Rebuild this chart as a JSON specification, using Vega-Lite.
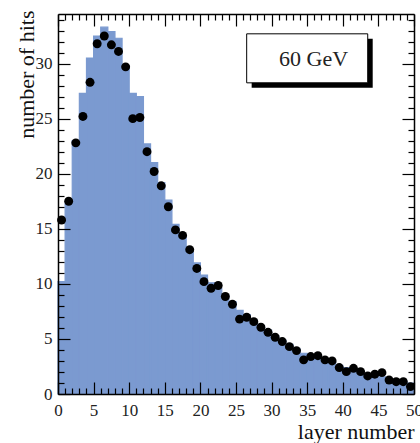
{
  "$schema": "https://vega.github.io/schema/vega-lite/v6.json",
  "width": 356,
  "height": 380,
  "autosize": "none",
  "padding": {"left": 58, "top": 14, "right": 6, "bottom": 49},
  "background": "white",
  "config": {"view": {"stroke": null}, "font": "Liberation Serif"},
  "data": {"values": [
    {"layer": 1, "lo": 0, "hi": 1, "mid": 0.5, "sim": 10.2, "hits": 15.8},
    {"layer": 2, "lo": 1, "hi": 2, "mid": 1.5, "sim": 17.3, "hits": 17.5},
    {"layer": 3, "lo": 2, "hi": 3, "mid": 2.5, "sim": 23.0, "hits": 22.8},
    {"layer": 4, "lo": 3, "hi": 4, "mid": 3.5, "sim": 27.3, "hits": 25.2},
    {"layer": 5, "lo": 4, "hi": 5, "mid": 4.5, "sim": 30.5, "hits": 28.3},
    {"layer": 6, "lo": 5, "hi": 6, "mid": 5.5, "sim": 32.5, "hits": 31.8},
    {"layer": 7, "lo": 6, "hi": 7, "mid": 6.5, "sim": 33.3, "hits": 32.5},
    {"layer": 8, "lo": 7, "hi": 8, "mid": 7.5, "sim": 32.9, "hits": 31.7},
    {"layer": 9, "lo": 8, "hi": 9, "mid": 8.5, "sim": 32.3, "hits": 31.1},
    {"layer": 10, "lo": 9, "hi": 10, "mid": 9.5, "sim": 29.8, "hits": 29.7},
    {"layer": 11, "lo": 10, "hi": 11, "mid": 10.5, "sim": 27.3, "hits": 25.0},
    {"layer": 12, "lo": 11, "hi": 12, "mid": 11.5, "sim": 27.0, "hits": 25.1},
    {"layer": 13, "lo": 12, "hi": 13, "mid": 12.5, "sim": 22.7, "hits": 22.0},
    {"layer": 14, "lo": 13, "hi": 14, "mid": 13.5, "sim": 21.0, "hits": 20.2},
    {"layer": 15, "lo": 14, "hi": 15, "mid": 14.5, "sim": 19.2, "hits": 18.9},
    {"layer": 16, "lo": 15, "hi": 16, "mid": 15.5, "sim": 17.6, "hits": 17.0},
    {"layer": 17, "lo": 16, "hi": 17, "mid": 16.5, "sim": 15.4, "hits": 14.9},
    {"layer": 18, "lo": 17, "hi": 18, "mid": 17.5, "sim": 14.2, "hits": 14.4},
    {"layer": 19, "lo": 18, "hi": 19, "mid": 18.5, "sim": 13.0, "hits": 13.1},
    {"layer": 20, "lo": 19, "hi": 20, "mid": 19.5, "sim": 11.9, "hits": 11.4},
    {"layer": 21, "lo": 20, "hi": 21, "mid": 20.5, "sim": 10.8, "hits": 10.2},
    {"layer": 22, "lo": 21, "hi": 22, "mid": 21.5, "sim": 10.1, "hits": 9.6},
    {"layer": 23, "lo": 22, "hi": 23, "mid": 22.5, "sim": 9.6, "hits": 9.85},
    {"layer": 24, "lo": 23, "hi": 24, "mid": 23.5, "sim": 9.0, "hits": 8.85},
    {"layer": 25, "lo": 24, "hi": 25, "mid": 24.5, "sim": 8.4, "hits": 8.15},
    {"layer": 26, "lo": 25, "hi": 26, "mid": 25.5, "sim": 7.6, "hits": 6.8},
    {"layer": 27, "lo": 26, "hi": 27, "mid": 26.5, "sim": 7.2, "hits": 6.97},
    {"layer": 28, "lo": 27, "hi": 28, "mid": 27.5, "sim": 6.7, "hits": 6.57},
    {"layer": 29, "lo": 28, "hi": 29, "mid": 28.5, "sim": 6.2, "hits": 6.06},
    {"layer": 30, "lo": 29, "hi": 30, "mid": 29.5, "sim": 5.8, "hits": 5.6},
    {"layer": 31, "lo": 30, "hi": 31, "mid": 30.5, "sim": 5.3, "hits": 5.15},
    {"layer": 32, "lo": 31, "hi": 32, "mid": 31.5, "sim": 4.9, "hits": 4.76},
    {"layer": 33, "lo": 32, "hi": 33, "mid": 32.5, "sim": 4.5, "hits": 4.3},
    {"layer": 34, "lo": 33, "hi": 34, "mid": 33.5, "sim": 4.1, "hits": 3.94},
    {"layer": 35, "lo": 34, "hi": 35, "mid": 34.5, "sim": 3.7, "hits": 3.1},
    {"layer": 36, "lo": 35, "hi": 36, "mid": 35.5, "sim": 3.5, "hits": 3.4},
    {"layer": 37, "lo": 36, "hi": 37, "mid": 36.5, "sim": 3.3, "hits": 3.48},
    {"layer": 38, "lo": 37, "hi": 38, "mid": 37.5, "sim": 3.1, "hits": 3.1},
    {"layer": 39, "lo": 38, "hi": 39, "mid": 38.5, "sim": 2.9, "hits": 3.0},
    {"layer": 40, "lo": 39, "hi": 40, "mid": 39.5, "sim": 2.6, "hits": 2.4},
    {"layer": 41, "lo": 40, "hi": 41, "mid": 40.5, "sim": 2.4, "hits": 2.03},
    {"layer": 42, "lo": 41, "hi": 42, "mid": 41.5, "sim": 2.2, "hits": 2.33},
    {"layer": 43, "lo": 42, "hi": 43, "mid": 42.5, "sim": 2.0, "hits": 2.03},
    {"layer": 44, "lo": 43, "hi": 44, "mid": 43.5, "sim": 1.85, "hits": 1.64},
    {"layer": 45, "lo": 44, "hi": 45, "mid": 44.5, "sim": 1.7, "hits": 1.8},
    {"layer": 46, "lo": 45, "hi": 46, "mid": 45.5, "sim": 1.55, "hits": 1.94},
    {"layer": 47, "lo": 46, "hi": 47, "mid": 46.5, "sim": 1.4, "hits": 1.27},
    {"layer": 48, "lo": 47, "hi": 48, "mid": 47.5, "sim": 1.3, "hits": 1.12},
    {"layer": 49, "lo": 48, "hi": 49, "mid": 48.5, "sim": 1.15, "hits": 1.12},
    {"layer": 50, "lo": 49, "hi": 50, "mid": 49.5, "sim": 1.0, "hits": 0.67}
  ]},
  "layer": [
    {
      "mark": {"type": "rect", "color": "#7b9ad0", "stroke": "#7b9ad0", "strokeWidth": 1.2, "opacity": 1},
      "encoding": {
        "x": {"field": "lo", "type": "quantitative",
          "scale": {"domain": [0, 50], "nice": false, "zero": false},
          "axis": {"orient": "bottom", "zindex": 3, "ticks": false,
            "values": [0, 5, 10, 15, 20, 25, 30, 35, 40, 45, 50],
            "labelFont": "Liberation Serif", "labelFontSize": 17, "labelColor": "#222",
            "labelPadding": 8, "labelFlush": false, "labelOverlap": false, "labelBound": false,
            "domainColor": "black", "domainWidth": 1.5,
            "grid": false,
            "title": "layer number", "titleFont": "Liberation Serif", "titleFontSize": 22,
            "titleFontWeight": "normal", "titleColor": "#111",
            "titleAnchor": "end", "titleAlign": "right", "titleBaseline": "alphabetic",
            "titleX": 356, "titleY": 44}},
        "x2": {"field": "hi"},
        "y": {"field": "sim", "type": "quantitative",
          "scale": {"domain": [0, 34.5], "nice": false, "zero": true},
          "axis": {"orient": "left", "zindex": 3, "ticks": false,
            "values": [0, 5, 10, 15, 20, 25, 30],
            "labelFont": "Liberation Serif", "labelFontSize": 17, "labelColor": "#222",
            "labelPadding": 6, "labelFlush": false, "labelOverlap": false, "labelBound": false,
            "domainColor": "black", "domainWidth": 1.5,
            "grid": false,
            "title": "number of hits", "titleFont": "Liberation Serif", "titleFontSize": 22,
            "titleFontWeight": "normal", "titleColor": "#111", "titleAngle": 270,
            "titleAnchor": "end", "titleAlign": "right", "titleBaseline": "alphabetic",
            "titleX": -25, "titleY": -4}},
        "y2": {"datum": 0}
      }
    },
    {
      "mark": {"type": "circle", "color": "black", "size": 80, "opacity": 1},
      "encoding": {
        "x": {"field": "mid", "type": "quantitative",
          "axis": {"orient": "top", "zindex": 3,
            "values": [0,1,2,3,4,5,6,7,8,9,10,11,12,13,14,15,16,17,18,19,20,21,22,23,24,25,26,27,28,29,30,31,32,33,34,35,36,37,38,39,40,41,42,43,44,45,46,47,48,49,50],
            "tickSize": {"condition": {"test": "datum.value % 5 === 0", "value": -12}, "value": -6},
            "labels": false, "title": null, "grid": false,
            "domainColor": "black", "domainWidth": 1.5, "tickColor": "black", "tickWidth": 1.2}},
        "y": {"field": "hits", "type": "quantitative",
          "axis": {"orient": "right", "zindex": 3,
            "values": [0,1,2,3,4,5,6,7,8,9,10,11,12,13,14,15,16,17,18,19,20,21,22,23,24,25,26,27,28,29,30,31,32,33,34],
            "tickSize": {"condition": {"test": "datum.value % 5 === 0", "value": -12}, "value": -6},
            "labels": false, "title": null, "grid": false,
            "domainColor": "black", "domainWidth": 1.5, "tickColor": "black", "tickWidth": 1.2}}
      }
    },
    {
      "data": {"values": [{"x1": 27.2, "x2": 44.2, "y1": 27.8, "y2": 32.25}]},
      "mark": {"type": "rect", "color": "black"},
      "encoding": {
        "x": {"field": "x1", "type": "quantitative",
          "axis": {"orient": "top", "offset": -380, "zindex": 3,
            "values": [0,1,2,3,4,5,6,7,8,9,10,11,12,13,14,15,16,17,18,19,20,21,22,23,24,25,26,27,28,29,30,31,32,33,34,35,36,37,38,39,40,41,42,43,44,45,46,47,48,49,50],
            "tickSize": {"condition": {"test": "datum.value % 5 === 0", "value": 12}, "value": 6},
            "labels": false, "title": null, "grid": false, "domain": false,
            "tickColor": "black", "tickWidth": 1.2}},
        "x2": {"field": "x2"},
        "y": {"field": "y1", "type": "quantitative",
          "axis": {"orient": "right", "offset": -356, "zindex": 3,
            "values": [0,1,2,3,4,5,6,7,8,9,10,11,12,13,14,15,16,17,18,19,20,21,22,23,24,25,26,27,28,29,30,31,32,33,34],
            "tickSize": {"condition": {"test": "datum.value % 5 === 0", "value": 12}, "value": 6},
            "labels": false, "title": null, "grid": false, "domain": false,
            "tickColor": "black", "tickWidth": 1.2}},
        "y2": {"field": "y2"}
      }
    },
    {
      "data": {"values": [{"x1": 26.5, "x2": 43.5, "y1": 28.25, "y2": 32.7}]},
      "mark": {"type": "rect", "fill": "white", "stroke": "black", "strokeWidth": 1},
      "encoding": {
        "x": {"field": "x1", "type": "quantitative", "axis": null}, "x2": {"field": "x2"},
        "y": {"field": "y1", "type": "quantitative", "axis": null}, "y2": {"field": "y2"}
      }
    },
    {
      "data": {"values": [{"label": "60 GeV", "x": 35.9, "y": 30.45}]},
      "mark": {"type": "text", "font": "Liberation Serif", "fontSize": 22, "fontWeight": "normal", "color": "#222", "align": "center", "baseline": "middle"},
      "encoding": {
        "x": {"field": "x", "type": "quantitative", "axis": null},
        "y": {"field": "y", "type": "quantitative", "axis": null},
        "text": {"field": "label"}
      }
    }
  ],
  "resolve": {"axis": {"x": "independent", "y": "independent"}}
}
